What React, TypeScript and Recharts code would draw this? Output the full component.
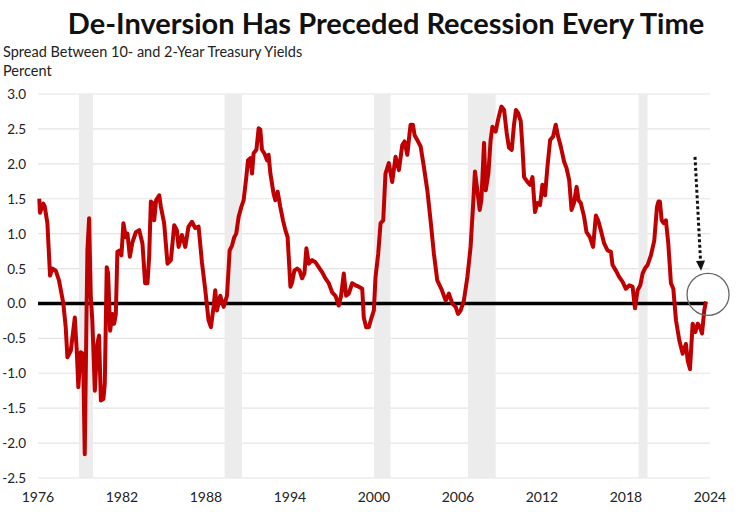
import { LineChart, Line, XAxis, YAxis, CartesianGrid, ReferenceArea, ReferenceLine, ReferenceDot } from 'recharts'

// year positions as placed on the chart's time axis
const years = [
      1976.09, 1976.14, 1976.38, 1976.48, 1976.67, 1976.86, 1977.02, 1977.27, 1977.5, 1977.81,
      1977.98, 1978.1, 1978.34, 1978.63, 1978.77, 1978.88, 1979.05, 1979.22, 1979.34, 1979.46,
      1979.53, 1979.65, 1979.77, 1979.88, 1980.06, 1980.24, 1980.36, 1980.49, 1980.67, 1980.77,
      1980.91, 1981.01, 1981.15, 1981.32, 1981.44, 1981.56, 1981.67, 1981.84, 1981.96, 1982.1,
      1982.27, 1982.39, 1982.56, 1982.75, 1982.99, 1983.23, 1983.46, 1983.65, 1983.82, 1983.94,
      1984.06, 1984.23, 1984.3, 1984.44, 1984.66, 1984.78, 1985.01, 1985.25, 1985.49, 1985.73,
      1985.92, 1986.04, 1986.28, 1986.52, 1986.75, 1987.0, 1987.23, 1987.47, 1987.71, 1987.95,
      1988.18, 1988.35, 1988.54, 1988.66, 1988.78, 1989.02, 1989.26, 1989.5, 1989.69, 1989.86,
      1990.02, 1990.16, 1990.33, 1990.52, 1990.69, 1990.88, 1991.0, 1991.17, 1991.29, 1991.4,
      1991.6, 1991.76, 1991.88, 1992.0, 1992.17, 1992.36, 1992.47, 1992.6, 1992.83, 1992.95,
      1993.12, 1993.31, 1993.5, 1993.67, 1993.83, 1994.03, 1994.15, 1994.31, 1994.51, 1994.69,
      1994.86, 1995.03, 1995.17, 1995.34, 1995.58, 1995.82, 1996.05, 1996.29, 1996.53, 1996.77,
      1997.01, 1997.25, 1997.48, 1997.65, 1997.84, 1998.01, 1998.2, 1998.44, 1998.68, 1998.91,
      1999.16, 1999.27, 1999.44, 1999.63, 1999.8, 1999.99, 2000.11, 2000.3, 2000.47, 2000.66,
      2000.82, 2001.06, 2001.3, 2001.54, 2001.78, 2002.02, 2002.18, 2002.38, 2002.49, 2002.61,
      2002.78, 2002.9, 2003.09, 2003.33, 2003.56, 2003.81, 2004.04, 2004.28, 2004.52, 2004.81,
      2005.12, 2005.35, 2005.59, 2005.83, 2006.0, 2006.19, 2006.42, 2006.67, 2006.9, 2007.07,
      2007.21, 2007.38, 2007.55, 2007.67, 2007.86, 2007.98, 2008.17, 2008.33, 2008.46, 2008.69,
      2008.86, 2009.1, 2009.29, 2009.48, 2009.64, 2009.84, 2010.0, 2010.14, 2010.29, 2010.48,
      2010.6, 2010.72, 2010.96, 2011.15, 2011.32, 2011.5, 2011.67, 2011.86, 2012.03, 2012.22,
      2012.39, 2012.58, 2012.79, 2012.98, 2013.15, 2013.34, 2013.58, 2013.75, 2013.94, 2014.11,
      2014.29, 2014.47, 2014.61, 2014.77, 2015.01, 2015.18, 2015.42, 2015.65, 2015.85, 2016.01,
      2016.2, 2016.44, 2016.68, 2016.92, 2017.04, 2017.28, 2017.51, 2017.76, 2017.99, 2018.23,
      2018.47, 2018.64, 2018.83, 2019.02, 2019.19, 2019.35, 2019.54, 2019.78, 2020.02, 2020.21,
      2020.32, 2020.42, 2020.55, 2020.69, 2020.85, 2021.02, 2021.21, 2021.38, 2021.57, 2021.81,
      2022.05, 2022.28, 2022.41, 2022.57, 2022.76, 2022.95, 2023.12, 2023.29, 2023.43, 2023.59,
      2023.71,
]

// 10y minus 2y spread, percent
const spread = [
      1.5, 1.3, 1.43, 1.39, 1.15, 0.4, 0.5, 0.47, 0.33, 0.0,
      -0.34, -0.77, -0.68, -0.2, -0.68, -1.2, -0.7, -0.72, -2.16, -0.24,
      0.76, 1.22, 0.09, -0.24, -1.25, -0.58, -0.46, -1.39, -1.37, -1.15,
      0.52, 0.43, -0.39, -0.15, -0.29, -0.15, 0.74, 0.76, 0.69, 1.15,
      0.95, 1.0, 0.67, 0.88, 1.02, 1.05, 0.86, 0.29, 0.29, 0.67,
      1.46, 1.43, 1.19, 1.48, 1.55, 1.38, 1.15, 0.57, 0.62, 1.12,
      1.05, 0.81, 0.98, 0.81, 1.1, 1.17, 1.08, 1.1, 0.59, 0.19,
      -0.24, -0.34, -0.05, 0.19, -0.1, 0.11, -0.05, 0.11, 0.76, 0.83,
      0.95, 1.0, 1.24, 1.38, 1.48, 1.81, 2.05, 2.08, 1.86, 2.15,
      2.2, 2.51, 2.49, 2.2, 2.15, 2.05, 2.13, 1.86, 1.57, 1.48,
      1.6, 1.38, 1.19, 1.05, 0.95, 0.24, 0.3, 0.47, 0.5, 0.47,
      0.36, 0.43, 0.79, 0.57, 0.62, 0.59, 0.52, 0.45, 0.36, 0.29,
      0.16, 0.11, -0.03, 0.11, 0.43, 0.11, 0.14, 0.29, 0.26, 0.24,
      0.21, -0.2, -0.34, -0.34, -0.22, -0.1, 0.38, 0.71, 1.15, 1.19,
      1.86, 2.01, 1.74, 2.1, 1.91, 2.27, 2.32, 2.13, 2.34, 2.56,
      2.56, 2.41, 2.34, 2.25, 1.96, 1.62, 1.19, 0.71, 0.33, 0.21,
      0.04, 0.14, 0.0, -0.05, -0.15, -0.1, 0.04, 0.38, 0.81, 1.38,
      1.89, 1.62, 1.34, 1.48, 2.3, 1.62, 1.86, 2.34, 2.53, 2.46,
      2.63, 2.82, 2.77, 2.44, 2.23, 2.2, 2.56, 2.77, 2.73, 2.61,
      2.25, 1.81, 1.74, 1.7, 1.81, 1.31, 1.44, 1.41, 1.7, 1.55,
      1.96, 2.34, 2.39, 2.56, 2.39, 2.25, 2.03, 1.94, 1.77, 1.34,
      1.44, 1.67, 1.48, 1.44, 1.24, 1.02, 0.95, 0.81, 1.26, 1.19,
      1.05, 0.86, 0.76, 0.74, 0.55, 0.47, 0.38, 0.31, 0.21, 0.26,
      0.24, -0.07, 0.19, 0.26, 0.43, 0.5, 0.55, 0.69, 0.9, 1.38,
      1.46, 1.46, 1.19, 1.15, 1.19, 0.86, 0.29, 0.21, -0.24, -0.53,
      -0.72, -0.58, -0.82, -0.94, -0.29, -0.41, -0.29, -0.34, -0.43, -0.1,
      0.03,
]

const recessionStart = [1978.93, 1989.33, 2000.0, 2006.71, 2018.9]
const recessionEnd = [1979.93, 1990.57, 2001.18, 2008.69, 2019.54]

const xTicks = [1976, 1982, 1988, 1994, 2000, 2006, 2012, 2018, 2024]
const yTicks = [-2.5, -2, -1.5, -1, -0.5, 0, 0.5, 1, 1.5, 2, 2.5, 3]

const data = years.map((year, i) => ({ year, spread: spread[i] }))

const font = 'Lato, "Open Sans", sans-serif'

const XTick = ({ x, y, payload }: any) => (
      <text x={x} y={y + 16} textAnchor="middle" fontSize={14} fill="#222" fontFamily={font}>
            {payload.value}
      </text>
)

const YTick = ({ y, payload }: any) => (
      <text x={26} y={y + 5} textAnchor="end" fontSize={13.5} fill="#222" fontFamily={font}>
            {payload.value.toFixed(1)}
      </text>
)

// dotted arrow pointing down at the latest de-inversion
const DottedArrow = ({ x1, y1, x2, y2 }: any) => {
      const ang = Math.atan2(y2 - y1, x2 - x1)
      const hx = x2 - 10 * Math.cos(ang)
      const hy = y2 - 10 * Math.sin(ang)
      const px = -Math.sin(ang) * 4.5
      const py = Math.cos(ang) * 4.5
      return (
            <g>
                  <line x1={x1} y1={y1} x2={hx} y2={hy} stroke="#111" strokeWidth={3} strokeDasharray="3 2.5" />
                  <polygon points={`${x2},${y2} ${hx + px},${hy + py} ${hx - px},${hy - py}`} fill="#111" />
            </g>
      )
}

export default function App() {
      return (
            <div style={{ position: 'absolute', left: 0, top: 0, width: 740, height: 512, background: '#fff', fontFamily: font }}>
                  <div style={{ position: 'absolute', left: 32, top: 5, width: 708, textAlign: 'center', fontSize: 29, fontWeight: 700, color: '#111' }}>
                        De-Inversion Has Preceded Recession Every Time
                  </div>
                  <div style={{ position: 'absolute', left: 3, top: 43, fontSize: 14.5, color: '#222' }}>
                        Spread Between 10- and 2-Year Treasury Yields
                  </div>
                  <div style={{ position: 'absolute', left: 3, top: 62, fontSize: 14.5, color: '#222' }}>Percent</div>
                  <div style={{ position: 'absolute', left: 0, top: 0 }}>
                        <LineChart width={740} height={512} data={data} margin={{ top: 94, right: 30, bottom: 4, left: 0 }}>
                              <CartesianGrid vertical={false} stroke="#e4e4e4" strokeWidth={1.2} />
                              {recessionStart.map((s, i) => (
                                    <ReferenceArea key={s} x1={s} x2={recessionEnd[i]} y1={-2.5} y2={3} fill="#ececec" fillOpacity={1} stroke="none" />
                              ))}
                              <XAxis
                                    dataKey="year"
                                    type="number"
                                    domain={[1976, 2024]}
                                    ticks={xTicks}
                                    axisLine={false}
                                    tickLine={false}
                                    height={30}
                                    tick={<XTick />}
                              />
                              <YAxis
                                    type="number"
                                    domain={[-2.5, 3]}
                                    ticks={yTicks}
                                    axisLine={false}
                                    tickLine={false}
                                    width={38}
                                    tick={<YTick />}
                              />
                              <ReferenceLine segment={[{ x: 1976, y: 0 }, { x: 2023.6, y: 0 }]} stroke="#000" strokeWidth={3.5} />
                              <Line
                                    type="linear"
                                    dataKey="spread"
                                    stroke="#c00000"
                                    strokeWidth={4}
                                    dot={false}
                                    strokeLinejoin="round"
                                    isAnimationActive={false}
                              />
                              <ReferenceDot x={2023.86} y={0.13} r={21} fill="none" stroke="#666" strokeWidth={1.3} />
                              <ReferenceLine
                                    segment={[{ x: 2022.93, y: 2.1 }, { x: 2023.36, y: 0.47 }]}
                                    shape={<DottedArrow />}
                              />
                        </LineChart>
                  </div>
            </div>
      )
}
